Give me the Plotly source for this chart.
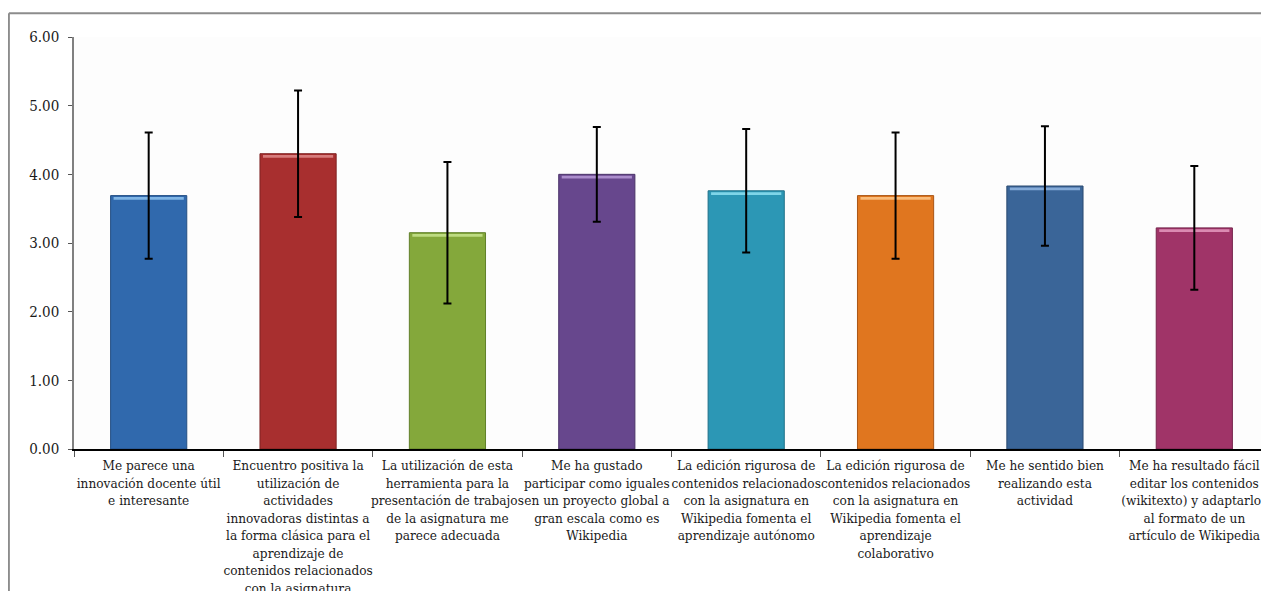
import plotly.graph_objects as go

categories = [
    "Me parece una<br>innovación docente útil<br>e interesante",
    "Encuentro positiva la<br>utilización de<br>actividades<br>innovadoras distintas a<br>la forma clásica para el<br>aprendizaje de<br>contenidos relacionados<br>con la asignatura",
    "La utilización de esta<br>herramienta para la<br>presentación de trabajos<br>de la asignatura me<br>parece adecuada",
    "Me ha gustado<br>participar como iguales<br>en un proyecto global a<br>gran escala como es<br>Wikipedia",
    "La edición rigurosa de<br>contenidos relacionados<br>con la asignatura en<br>Wikipedia fomenta el<br>aprendizaje autónomo",
    "La edición rigurosa de<br>contenidos relacionados<br>con la asignatura en<br>Wikipedia fomenta el<br>aprendizaje<br>colaborativo",
    "Me he sentido bien<br>realizando esta<br>actividad",
    "Me ha resultado fácil<br>editar los contenidos<br>(wikitexto) y adaptarlos<br>al formato de un<br>artículo de Wikipedia",
]
means = [3.69, 4.30, 3.15, 4.00, 3.76, 3.69, 3.83, 3.22]
std_devs = [0.92, 0.92, 1.03, 0.69, 0.90, 0.92, 0.87, 0.90]
bar_colors = ["#3069AD", "#A82F2F", "#84A83B", "#67478D", "#2C97B5", "#E0761F", "#3A6598", "#A03468"]
edge_colors = ["#244F84", "#7E2222", "#61802A", "#4B3369", "#1F7088", "#A95616", "#2A4A70", "#76244C"]
gloss_colors = ["#8EC3EE", "#E08A8A", "#C8E58E", "#B79AD8", "#8EE0F2", "#FFC98A", "#93B8E4", "#E69AC0"]

FONT = "DejaVu Serif Condensed, Liberation Serif, serif"

# gloss strip just below each bar top (a fixed fraction of the axis range)
gloss_base = [m - 0.06 for m in means]
gloss_height = [0.04] * len(means)

fig = go.Figure()
fig.add_trace(go.Bar(
    x=categories,
    y=means,
    width=0.51,
    marker=dict(color=bar_colors, line=dict(color=edge_colors, width=1)),
    showlegend=False,
    hoverinfo="skip",
))
fig.add_trace(go.Bar(
    x=categories,
    y=gloss_height,
    base=gloss_base,
    width=0.47,
    marker=dict(color=gloss_colors, line=dict(width=0)),
    opacity=0.85,
    showlegend=False,
    hoverinfo="skip",
))
fig.add_trace(go.Bar(
    x=categories,
    y=means,
    width=0.51,
    marker=dict(color="rgba(0,0,0,0)", line=dict(width=0)),
    error_y=dict(type="data", array=std_devs, visible=True, color="#000000", thickness=2, width=4),
    showlegend=False,
))

fig.update_layout(
    width=1261,
    height=583,
    margin=dict(l=66, r=0, t=29, b=142, autoexpand=False),
    paper_bgcolor="#FFFFFF",
    plot_bgcolor="#FDFDFD",
    barmode="overlay",
    font=dict(family=FONT, size=13.5, color="#1A1A1A"),
    xaxis=dict(
        type="category",
        showline=True,
        linecolor="#000000",
        linewidth=1.5,
        ticks="outside",
        tickson="boundaries",
        ticklen=6,
        tickcolor="#555555",
        tickangle=0,
        automargin=False,
        ticklabelstandoff=3,
        tickfont=dict(family=FONT, size=13.5, color="#1A1A1A"),
        showgrid=False,
    ),
    yaxis=dict(
        range=[0, 6],
        dtick=1,
        tickformat=".2f",
        showline=True,
        linecolor="#808080",
        linewidth=1.5,
        ticks="outside",
        ticklen=4,
        tickcolor="#555555",
        showgrid=False,
        zeroline=False,
        automargin=False,
        ticklabelstandoff=6,
        tickfont=dict(family=FONT, size=15, color="#1A1A1A"),
    ),
    shapes=[
        dict(type="line", xref="paper", yref="paper", x0=-0.0545, x1=-0.0545, y0=1.0574, y1=-0.5,
             line=dict(color="#8C8C8C", width=2), layer="above"),
        dict(type="line", xref="paper", yref="paper", x0=-0.0545, x1=1.02, y0=1.0574, y1=1.0574,
             line=dict(color="#8C8C8C", width=2), layer="above"),
    ],
)

fig.write_html("out.html")
